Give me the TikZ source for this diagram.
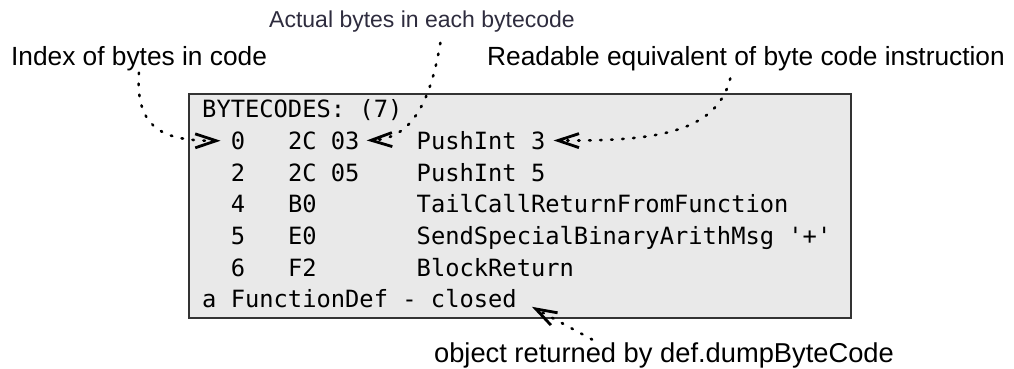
\documentclass[tikz,border=0pt]{standalone}
\usepackage{fontspec}
\setmainfont{Liberation Sans}
\newfontfamily\codefont{DejaVu Sans Mono}
\usetikzlibrary{arrows.meta}
\definecolor{boxfill}{HTML}{E9E9E9}
\definecolor{boxline}{HTML}{333333}
\definecolor{fuzzy}{HTML}{2E2C3E}
\begin{document}
\begin{tikzpicture}[x=1pt,y=-1pt,
  lbl/.style={anchor=base, inner sep=0pt, font=\fontsize{26.3}{30}\selectfont},
  code/.style={anchor=base west, inner sep=0pt, font=\codefont\fontsize{23.75}{28}\selectfont},
  pointer/.style={line width=2.6pt, line cap=round, dash pattern=on 1.5pt off 9.5pt,
     -{Straight Barb[length=21pt,width=14pt,line width=2.8pt]}},
  codebox/.style={draw=boxline, fill=boxfill, line width=1.3pt}]
\useasboundingbox[fill=white] (0,0) rectangle (1014,369);
% box
\path[codebox] (189,94) rectangle (851,318);
% labels
\node[lbl, font=\fontsize{23}{27}\selectfont, text=fuzzy] (actlbl) at (422,28) {Actual bytes in each bytecode};
\node[lbl] (idxlbl) at (139,66) {Index of bytes in code};
\node[lbl] (readlbl) at (746,66) {Readable equivalent of byte code instruction};
\node[lbl, font=\fontsize{27.3}{31}\selectfont] (objlbl) at (664,362) {object returned by def.dumpByteCode};
% code lines
\def\cx#1{202+14.3*#1}
\node[code] (hdr) at ({\cx{0}},117.6) {BYTECODES: (7)};
\node[code] (idx0) at ({\cx{2}},149.3) {0};
\node[code] (bytes0) at ({\cx{6}},149.3) {2C 03};
\node[code] (instr0) at ({\cx{15}},149.3) {PushInt 3};
\node[code] (idx1) at ({\cx{2}},181) {2};
\node[code] (bytes1) at ({\cx{6}},181) {2C 05};
\node[code] (instr1) at ({\cx{15}},181) {PushInt 5};
\node[code] (idx2) at ({\cx{2}},212.6) {4};
\node[code] (bytes2) at ({\cx{6}},212.6) {B0};
\node[code] (instr2) at ({\cx{15}},212.6) {TailCallReturnFromFunction};
\node[code] (idx3) at ({\cx{2}},244.3) {5};
\node[code] (bytes3) at ({\cx{6}},244.3) {E0};
\node[code] (instr3) at ({\cx{15}},244.3) {SendSpecialBinaryArithMsg \textquotesingle+\textquotesingle};
\node[code] (idx4) at ({\cx{2}},276) {6};
\node[code] (bytes4) at ({\cx{6}},276) {F2};
\node[code] (instr4) at ({\cx{15}},276) {BlockReturn};
\node[code] (fdef) at ({\cx{0}},307.6) {a FunctionDef - closed};
% pointers
\draw[pointer, shorten <=1pt, shorten >=10pt] (idxlbl.south) .. controls (135,130) and (165,141) .. (idx0.west);
\draw[pointer, shorten <=10pt, shorten >=7pt] ([xshift=20pt]actlbl.south) .. controls (430,105) and (410,139) .. (bytes0.east);
\draw[pointer, shorten <=7pt, shorten >=8pt] ([xshift=-14pt]readlbl.south) .. controls (716,135) and (650,141) .. (instr0.east);
\draw[pointer, shorten <=1pt, shorten >=17pt] ([xshift=-71pt,yshift=2pt]objlbl.north) -- (fdef.east);
\end{tikzpicture}
\end{document}
